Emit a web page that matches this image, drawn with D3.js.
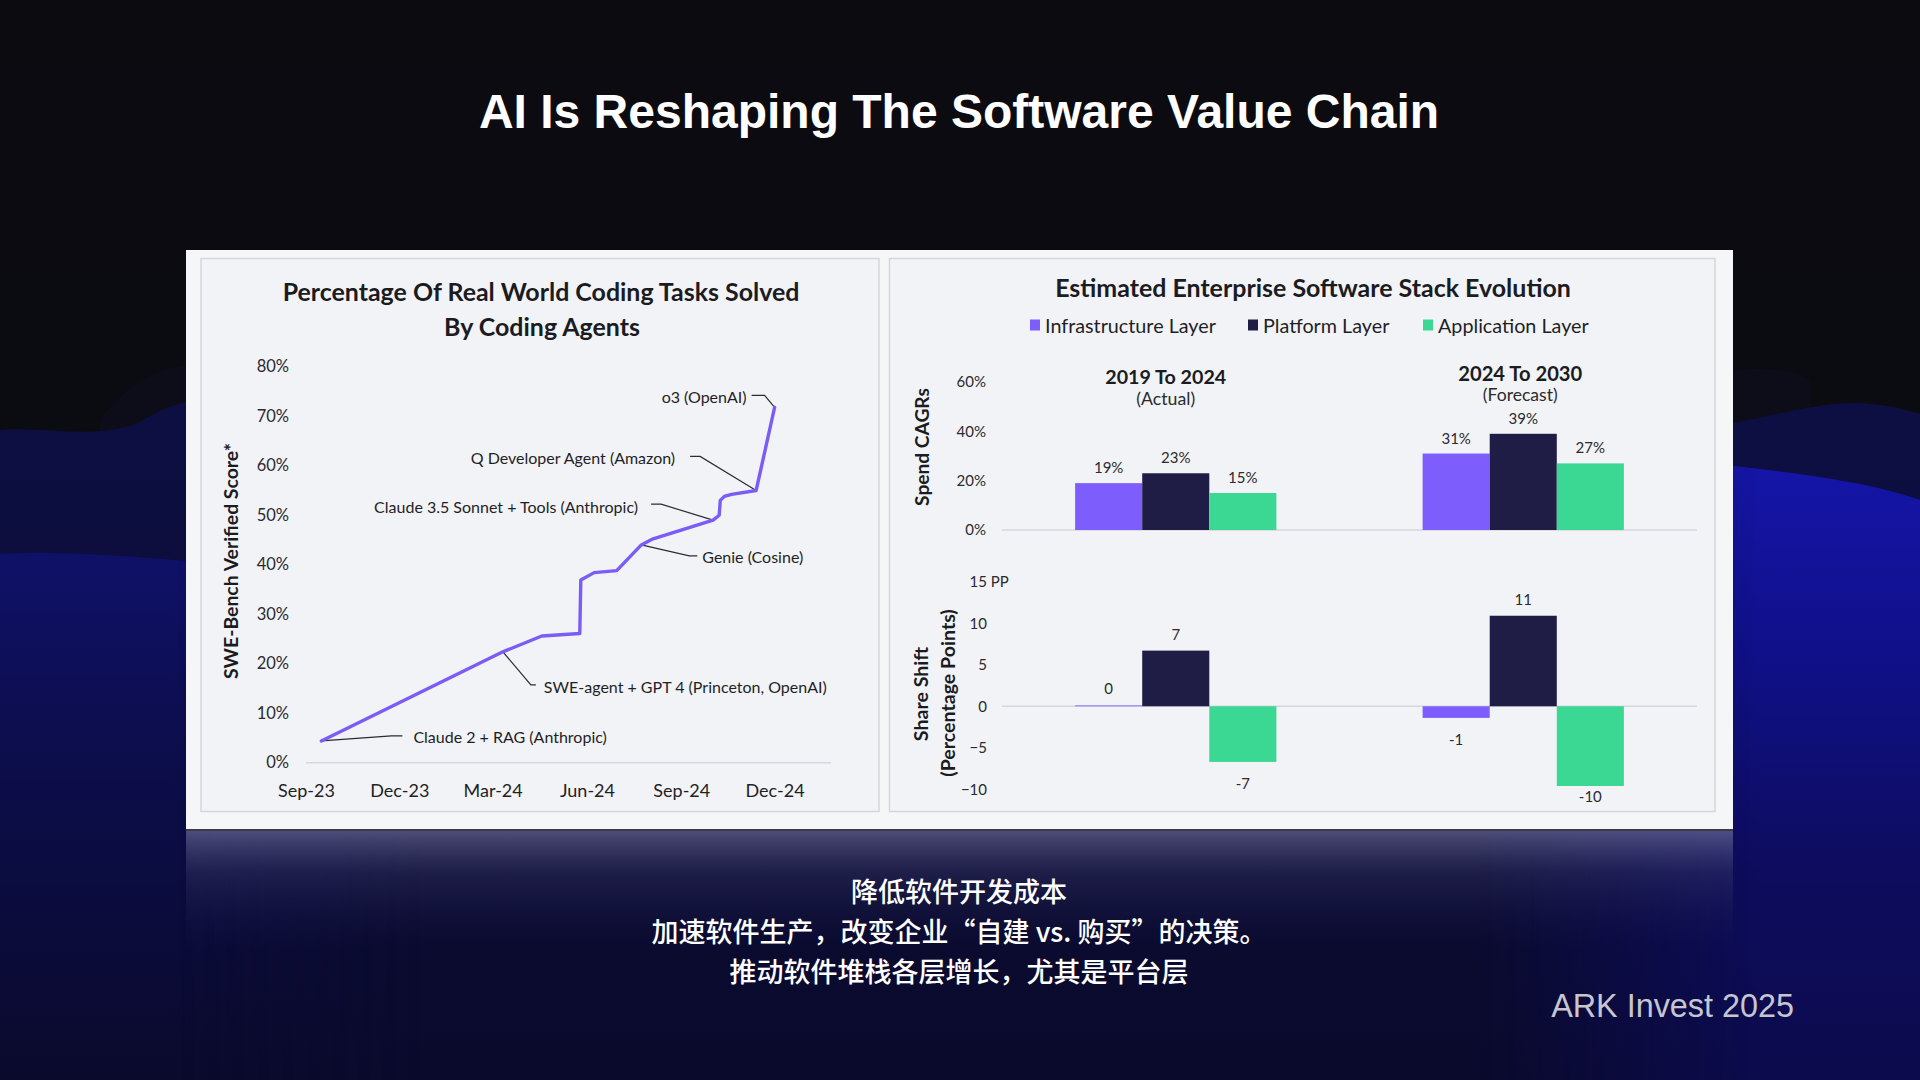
<!DOCTYPE html>
<html><head><meta charset="utf-8">
<script src="https://cdn.jsdelivr.net/npm/d3@7"></script>
<style>
html,body{margin:0;padding:0;background:#0b0b11;overflow:hidden}
svg{display:block}
</style></head><body>
<svg id="slide" width="1920" height="1080"></svg>
<script>
// ================= DATA =================
const slideTitle = "AI Is Reshaping The Software Value Chain";
const subtitleLines = ["降低软件开发成本", "加速软件生产，改变企业“自建 vs. 购买”的决策。", "推动软件堆栈各层增长，尤其是平台层"];
const footerText = "ARK Invest 2025";

// Left chart: SWE-Bench verified score over time
const lineTitleLines = ["Percentage Of Real World Coding Tasks Solved", "By Coding Agents"];
const lineYAxisTitle = "SWE-Bench Verified Score*";
const lineDates = ["2023-09-16", "2024-03-11", "2024-04-18", "2024-05-25", "2024-05-26", "2024-06-08", "2024-06-30",
  "2024-07-24", "2024-08-03", "2024-10-02", "2024-10-08", "2024-10-09", "2024-10-13", "2024-10-20", "2024-11-13", "2024-12-01"];
const lineScores = [4.4, 22.4, 25.6, 26.1, 36.9, 38.4, 38.8, 44.0, 45.1, 49.0, 50.0, 53.0, 53.8, 54.2, 55.0, 71.8];
const lineXTickDates = ["2023-09-01", "2023-12-01", "2024-03-01", "2024-06-01", "2024-09-01", "2024-12-01"];
const lineYTicks = [0, 10, 20, 30, 40, 50, 60, 70, 80];
const annotationLabels = ["o3 (OpenAI)", "Q Developer Agent (Amazon)", "Claude 3.5 Sonnet + Tools (Anthropic)",
  "Genie (Cosine)", "SWE-agent + GPT 4 (Princeton, OpenAI)", "Claude 2 + RAG (Anthropic)"];
const annotationPointIndex = [15, 14, 9, 7, 1, 0];

// Right chart: enterprise software stack
const barTitle = "Estimated Enterprise Software Stack Evolution";
const layers = ["Infrastructure Layer", "Platform Layer", "Application Layer"];
const periods = ["2019 To 2024", "2024 To 2030"];
const periodNotes = ["(Actual)", "(Forecast)"];
const cagrInfrastructure = [19, 31];
const cagrPlatform = [23, 39];
const cagrApplication = [15, 27];
const shareInfrastructure = [0.1, -1.4];
const sharePlatform = [6.7, 10.9];
const shareApplication = [-6.7, -9.6];
const cagrTicks = [0, 20, 40, 60];
const shareTicks = [-10, -5, 0, 5, 10, 15];
const cagrAxisTitle = "Spend CAGRs";
const shareAxisTitle = ["Share Shift", "(Percentage Points)"];

// ================= STYLE / LAYOUT =================
const colors = {infra: "#7d5efc", platform: "#1f1d45", app: "#3ad893", line: "#7b5cf6",
  text: "#1b1b22", grid: "#d6d7dd", panel: "#f2f3f6", card: "#f5f6f8", border: "#d5d7dd"};
const layerColors = [colors.infra, colors.platform, colors.app];
const F = "Lato, 'Open Sans', sans-serif";

const svg = d3.select("#slide");
const defs = svg.append("defs");

function grad(id, stops, y1, y2, x1 = 0, x2 = 0) {
  const g = defs.append("linearGradient").attr("id", id).attr("gradientUnits", "userSpaceOnUse")
    .attr("x1", x1).attr("x2", x2).attr("y1", y1).attr("y2", y2);
  stops.forEach(s => g.append("stop").attr("offset", s[0]).attr("stop-color", s[1]).attr("stop-opacity", s[2] ?? 1));
}
grad("gA", [[0, "#0d0f44"], [0.45, "#0b0c36"], [1, "#0a0a2c"]], 400, 1080);
grad("gBL", [[0, "#0f1168"], [0.4, "#0c0d4a"], [1, "#0a0a2c"]], 554, 1080);
grad("gBR", [[0, "#1515a8"], [0.3, "#10108a"], [0.65, "#0d0c5e"], [1, "#0c0b4c"]], 465, 1080);
grad("gRefl", [[0, "#6a6a96", 0.7], [0.35, "#3a3a6a", 0.4], [1, "#1a1a50", 0]], 831, 950);
grad("gTop", [[0, "#0b0b10"], [1, "#0b0b12"]], 0, 400);
// horizontal fades for masks
grad("fadeR", [[0, "#000"], [1, "#fff"]], 0, 0, 1480, 1760);
grad("fadeL", [[0, "#fff"], [1, "#000"]], 0, 0, 170, 420);
defs.append("mask").attr("id", "mR").attr("maskUnits", "userSpaceOnUse").attr("x", 0).attr("y", 0).attr("width", 1920).attr("height", 1080)
  .append("rect").attr("width", 1920).attr("height", 1080).attr("fill", "url(#fadeR)");
defs.append("mask").attr("id", "mL").attr("maskUnits", "userSpaceOnUse").attr("x", 0).attr("y", 0).attr("width", 1920).attr("height", 1080)
  .append("rect").attr("width", 1920).attr("height", 1080).attr("fill", "url(#fadeL)");

// ---- background ----
svg.append("rect").attr("width", 1920).attr("height", 1080).attr("fill", "url(#gTop)");
svg.append("path").attr("fill", "#0d0d19")
  .attr("d", "M100,1080 L100,420 C130,380 160,366 200,364 L1720,372 C1760,366 1790,368 1810,380 L1810,1080 Z");
svg.append("path").attr("fill", "url(#gA)")
  .attr("d", "M0,430 C50,427 100,440 140,422 C160,410 178,402 200,400 L1720,425 C1770,418 1810,404 1850,403 C1885,403 1905,410 1920,414 L1920,1080 L0,1080 Z");
svg.append("path").attr("fill", "url(#gBL)").attr("mask", "url(#mL)")
  .attr("d", "M0,554 C60,551 130,556 220,564 C300,570 380,572 440,574 L440,1080 L0,1080 Z");
svg.append("path").attr("fill", "url(#gBR)").attr("mask", "url(#mR)")
  .attr("d", "M1450,456 C1600,458 1700,462 1733,466 C1790,472 1830,478 1860,484 C1885,489 1905,495 1920,500 L1920,1080 L1450,1080 Z");

// ---- slide title ----
svg.append("text").attr("x", 959).attr("y", 128).attr("text-anchor", "middle")
  .attr("font-family", "'Liberation Sans', Arial, sans-serif").attr("font-weight", "bold")
  .attr("font-size", 48).attr("fill", "#ffffff").text(slideTitle);

// ---- card ----
svg.append("rect").attr("x", 186).attr("y", 250).attr("width", 1547).attr("height", 580).attr("fill", colors.card);
svg.append("rect").attr("x", 186).attr("y", 829).attr("width", 1547).attr("height", 2).attr("fill", "#3a3a48");
svg.append("rect").attr("x", 186).attr("y", 831).attr("width", 1547).attr("height", 120).attr("fill", "url(#gRefl)");
svg.append("rect").attr("x", 201).attr("y", 258.5).attr("width", 678).attr("height", 553).attr("fill", colors.panel)
  .attr("stroke", colors.border).attr("stroke-width", 1.5);
svg.append("rect").attr("x", 889.5).attr("y", 258.5).attr("width", 825.5).attr("height", 553).attr("fill", colors.panel)
  .attr("stroke", colors.border).attr("stroke-width", 1.5);

function fit(sel, target) {
  const w = sel.node().getComputedTextLength();
  const fs = parseFloat(sel.attr("font-size"));
  if (w > 0) sel.attr("font-size", fs * target / w);
}
function fitGroup(sels, targets) {
  let w = 0, t = 0;
  sels.forEach((s, i) => { w += s.node().getComputedTextLength(); t += targets[i]; });
  const k = t / w;
  sels.forEach(s => s.attr("font-size", parseFloat(s.attr("font-size")) * k));
  return k;
}

// ================= LEFT CHART =================
const parse = d3.timeParse("%Y-%m-%d");
const L = svg.append("g").attr("font-family", F).attr("fill", colors.text);

const lt1 = L.append("text").attr("x", 541).attr("y", 291).attr("text-anchor", "middle").attr("dominant-baseline", "central")
  .attr("font-weight", "bold").attr("font-size", 23).text(lineTitleLines[0]);
const lt2 = L.append("text").attr("x", 542).attr("y", 326).attr("text-anchor", "middle").attr("dominant-baseline", "central")
  .attr("font-weight", "bold").attr("font-size", 23).text(lineTitleLines[1]);
fitGroup([lt1, lt2], [519, 194]);

const xL = d3.scaleTime().domain([parse("2023-09-01"), parse("2024-12-01")]).range([306, 774.6]);
const yL = d3.scaleLinear().domain([0, 80]).range([762.7, 366.7]);

L.append("line").attr("x1", 306).attr("x2", 831).attr("y1", yL(0)).attr("y2", yL(0))
  .attr("stroke", colors.grid).attr("stroke-width", 1.5);

const yAxL = L.append("g").attr("transform", "translate(292,0)")
  .call(d3.axisLeft(yL).tickValues(lineYTicks).tickSize(0).tickPadding(3).tickFormat(d => d + "%"));
yAxL.select(".domain").remove();
yAxL.selectAll("text").attr("font-family", F).attr("font-size", 16.5).attr("fill", "#2a2a30");

const xAxL = L.append("g").attr("transform", `translate(0,${yL(0)})`)
  .call(d3.axisBottom(xL).tickValues(lineXTickDates.map(parse)).tickSize(0).tickFormat(d3.timeFormat("%b-%y")));
xAxL.select(".domain").remove();
xAxL.selectAll("text").attr("y", 28.5).attr("dy", "0.35em").attr("font-family", F).attr("font-size", 18).attr("fill", "#1f1f26");

const yTitleL = L.append("text").attr("transform", "translate(230,561) rotate(-90)").attr("text-anchor", "middle")
  .attr("dominant-baseline", "central").attr("font-weight", "bold").attr("font-size", 17).text(lineYAxisTitle);
fit(yTitleL, 236);

const pts = lineDates.map((d, i) => [xL(parse(d)), yL(lineScores[i])]);

// annotation layout (pixel offsets relative to the annotated point)
const annLayout = [
  {elbow: [-10, -12], end: [-23, -12], text: [-28, -11], anchor: "end"},
  {elbow: [-56, -34], end: [-66, -34], text: [-81, -33], anchor: "end"},
  {elbow: [-52, -16], end: [-62, -16], text: [-75, -14], anchor: "end"},
  {elbow: [48, 11], end: [56, 11], text: [61, 12], anchor: "start"},
  {elbow: [28, 33], end: [33, 33], text: [41, 35], anchor: "start"},
  {elbow: [70, -5], end: [81, -5], text: [92, -4], anchor: "start"}
];
const annTargets = [83, 206, 266, 103, 279, 194];
const annTexts = [];
annotationLabels.forEach((lab, i) => {
  const p = pts[annotationPointIndex[i]], a = annLayout[i];
  L.append("polyline")
    .attr("points", [[p[0], p[1]], [p[0] + a.elbow[0], p[1] + a.elbow[1]], [p[0] + a.end[0], p[1] + a.end[1]]].map(q => q.join(",")).join(" "))
    .attr("fill", "none").attr("stroke", "#2b2b33").attr("stroke-width", 1.2);
  annTexts.push(L.append("text").attr("x", p[0] + a.text[0]).attr("y", p[1] + a.text[1]).attr("text-anchor", a.anchor)
    .attr("dominant-baseline", "central").attr("font-size", 15).attr("fill", "#1f1f26").text(lab));
});
fitGroup(annTexts, annTargets);

L.append("path").datum(pts).attr("d", d3.line()).attr("fill", "none").attr("stroke", colors.line)
  .attr("stroke-width", 3.4).attr("stroke-linejoin", "round").attr("stroke-linecap", "round");

// ================= RIGHT CHART =================
const R = svg.append("g").attr("font-family", F).attr("fill", colors.text);
const rt = R.append("text").attr("x", 1313).attr("y", 287).attr("text-anchor", "middle").attr("dominant-baseline", "central")
  .attr("font-weight", "bold").attr("font-size", 22).text(barTitle);
fit(rt, 516);

// legend
const legX = [1030, 1248, 1423];
const legTexts = [];
layers.forEach((l, i) => {
  R.append("rect").attr("x", legX[i]).attr("y", 319.5).attr("width", 10).attr("height", 11).attr("fill", layerColors[i]);
  legTexts.push(R.append("text").attr("x", legX[i] + 15).attr("y", 325.5).attr("dominant-baseline", "central")
    .attr("font-size", 18).attr("fill", "#1f1f26").text(l));
});
fitGroup(legTexts, [170, 126, 152]);

const xG = d3.scaleBand().domain(periods).range([1002, 1697]).padding(0);
const xIn = d3.scaleBand().domain(layers).range([0, xG.bandwidth()]).paddingInner(0).paddingOuter(1.09);

// period headers
const headY = [[376, 398], [373, 394]];
const headW = [[121, 59], [124, 75]];
periods.forEach((p, i) => {
  const cx = xG(p) + xG.bandwidth() / 2 - 10 + i * 7;
  const h = R.append("text").attr("x", cx).attr("y", headY[i][0]).attr("text-anchor", "middle").attr("dominant-baseline", "central")
    .attr("font-weight", "bold").attr("font-size", 19).text(p);
  fit(h, headW[i][0]);
  const n = R.append("text").attr("x", cx).attr("y", headY[i][1]).attr("text-anchor", "middle").attr("dominant-baseline", "central")
    .attr("font-size", 15).attr("fill", "#2a2a30").text(periodNotes[i]);
  fit(n, headW[i][1]);
});

// --- top: spend CAGRs ---
const yT = d3.scaleLinear().domain([0, 60]).range([530, 382]);
const yAxT = R.append("g").attr("transform", "translate(989,0)")
  .call(d3.axisLeft(yT).tickValues(cagrTicks).tickSize(0).tickPadding(3).tickFormat(d => d + "%"));
yAxT.select(".domain").remove();
yAxT.selectAll("text").attr("font-family", F).attr("font-size", 15).attr("fill", "#2a2a30");
R.append("line").attr("x1", 1002).attr("x2", 1697).attr("y1", yT(0)).attr("y2", yT(0)).attr("stroke", colors.grid).attr("stroke-width", 1.5);

const cagrSeries = [cagrInfrastructure, cagrPlatform, cagrApplication];
const shareSeries = [shareInfrastructure, sharePlatform, shareApplication];

periods.forEach((p, i) => {
  layers.forEach((l, j) => {
    const v = cagrSeries[j][i];
    const x = xG(p) + xIn(l);
    R.append("rect").attr("x", x).attr("y", yT(v)).attr("width", xIn.bandwidth()).attr("height", yT(0) - yT(v)).attr("fill", layerColors[j]);
    R.append("text").attr("x", x + xIn.bandwidth() / 2).attr("y", yT(v) - 16).attr("text-anchor", "middle")
      .attr("dominant-baseline", "central").attr("font-size", 15).attr("fill", "#2a2a30").text(v + "%");
  });
});
const cTitle = R.append("text").attr("transform", "translate(921,447) rotate(-90)").attr("text-anchor", "middle")
  .attr("dominant-baseline", "central").attr("font-weight", "bold").attr("font-size", 17).text(cagrAxisTitle);
fit(cTitle, 118);

// --- bottom: share shift ---
const yB = d3.scaleLinear().domain([-10, 15]).range([789.3, 581.7]);
const yAxB = R.append("g").attr("transform", "translate(990,0)")
  .call(d3.axisLeft(yB).tickValues(shareTicks).tickSize(0).tickPadding(3));
yAxB.select(".domain").remove();
yAxB.selectAll("text").attr("font-family", F).attr("font-size", 15).attr("fill", "#2a2a30");
yAxB.selectAll(".tick").filter(d => d === 15).select("text").each(function () {
  const t = d3.select(this);
  const w = this.getComputedTextLength();
  t.attr("text-anchor", "start").attr("x", -3 - w).text("15 PP");
});
R.append("line").attr("x1", 1002).attr("x2", 1697).attr("y1", yB(0)).attr("y2", yB(0)).attr("stroke", colors.grid).attr("stroke-width", 1.5);

periods.forEach((p, i) => {
  layers.forEach((l, j) => {
    const v = shareSeries[j][i];
    const x = xG(p) + xIn(l);
    const y0 = yB(0), y1 = yB(v);
    R.append("rect").attr("x", x).attr("y", Math.min(y0, y1)).attr("width", xIn.bandwidth())
      .attr("height", Math.max(Math.abs(y1 - y0), 0.8)).attr("fill", layerColors[j]);
    const ly = v >= 0 ? y1 - 17 : Math.min(y1 + 21, 796);
    R.append("text").attr("x", x + xIn.bandwidth() / 2).attr("y", ly).attr("text-anchor", "middle")
      .attr("dominant-baseline", "central").attr("font-size", 15).attr("fill", "#2a2a30").text(Math.round(v));
  });
});
const s1 = R.append("text").attr("transform", "translate(920,694) rotate(-90)").attr("text-anchor", "middle")
  .attr("dominant-baseline", "central").attr("font-weight", "bold").attr("font-size", 17).text(shareAxisTitle[0]);
const s2 = R.append("text").attr("transform", "translate(947,693) rotate(-90)").attr("text-anchor", "middle")
  .attr("dominant-baseline", "central").attr("font-weight", "bold").attr("font-size", 17).text(shareAxisTitle[1]);
fitGroup([s1, s2], [95, 167]);

// ================= SUBTITLE / FOOTER =================
const subY = [890, 930, 970];
subtitleLines.forEach((s, i) => {
  svg.append("text").attr("x", 959).attr("y", subY[i]).attr("text-anchor", "middle").attr("dominant-baseline", "central")
    .attr("font-family", "'Noto Sans CJK SC', sans-serif").attr("font-weight", 500).attr("font-size", 27)
    .attr("fill", "#ffffff").text(s);
});
const ft = svg.append("text").attr("x", 1794).attr("y", 1017).attr("text-anchor", "end")
  .attr("font-family", "'Liberation Sans', Arial, sans-serif").attr("font-size", 33).attr("fill", "#c6c6d0").text(footerText);
fit(ft, 243);
</script>
</body></html>
